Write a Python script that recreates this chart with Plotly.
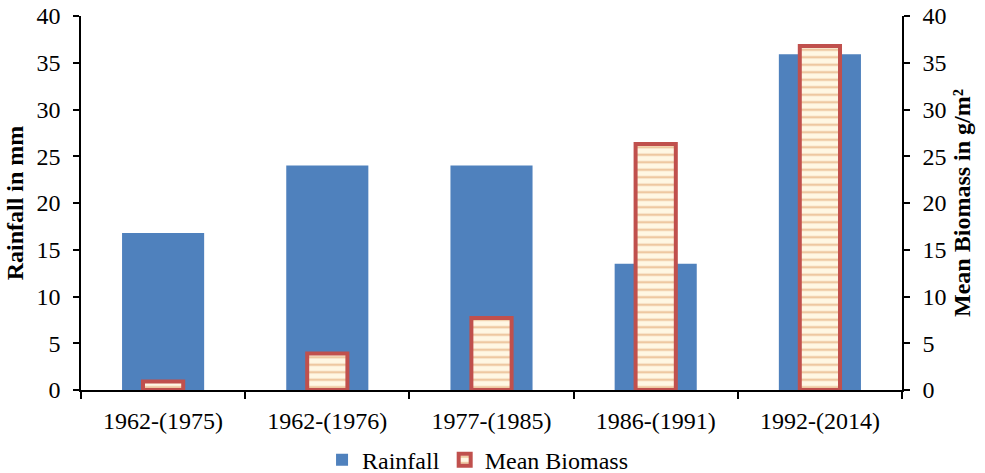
import plotly.graph_objects as go

periods = ["1962-(1975)", "1962-(1976)", "1977-(1985)", "1986-(1991)", "1992-(2014)"]
rainfall_mm = [16.8, 24.0, 24.0, 13.5, 35.9]
mean_biomass = [0.9, 3.9, 7.7, 26.3, 36.8]
y_ticks = [0, 5, 10, 15, 20, 25, 30, 35, 40]

FONT = "Liberation Serif, Times New Roman, serif"

fig = go.Figure()

fig.add_trace(go.Bar(
    x=periods, y=rainfall_mm, name="Rainfall",
    width=0.5,
    marker=dict(color="#4F81BD", line=dict(width=0)),
    yaxis="y",
))

fig.add_trace(go.Bar(
    x=periods, y=mean_biomass, name="Mean Biomass",
    width=0.245,
    marker=dict(
        color="#FFF6E3",
        line=dict(color="#C0504D", width=4),
        pattern=dict(shape="-", fgcolor="#DE9A5E", bgcolor="#FFF7E4",
                     size=7.5, solidity=0.32),
    ),
    yaxis="y2",
))

axis_common = dict(
    range=[0, 40], tickvals=y_ticks, showgrid=False, zeroline=False,
    showline=True, linecolor="black", linewidth=1.5,
    ticks="outside", ticklen=6, tickcolor="black", tickwidth=1.5,
    tickfont=dict(family=FONT, size=24, color="black"),
    ticklabelstandoff=8, automargin=False,
)

fig.update_layout(
    width=985, height=473,
    margin=dict(l=81, r=83, t=16, b=83, autoexpand=False),
    paper_bgcolor="white", plot_bgcolor="white",
    barmode="overlay",
    font=dict(family=FONT, color="black"),
    xaxis=dict(
        type="category", showgrid=False, showline=True, linecolor="black",
        linewidth=1.5, ticks="outside", tickson="boundaries", ticklen=7,
        tickcolor="black", tickwidth=1.5,
        tickfont=dict(family=FONT, size=24, color="black"),
        ticklabelstandoff=8, automargin=False,
    ),
    yaxis=dict(
        **axis_common,
        title=dict(text="<b>Rainfall in mm</b>", font=dict(family=FONT, size=24), standoff=6),
    ),
    yaxis2=dict(
        **axis_common, overlaying="y", side="right",
        title=dict(text="<b>Mean Biomass in g/m²</b>", font=dict(family=FONT, size=24), standoff=8),
    ),
    legend=dict(
        orientation="h", x=0.483, xanchor="center",
        yref="container", y=0.027, yanchor="middle",
        font=dict(family=FONT, size=24, color="black"),
        itemwidth=30, traceorder="normal",
    ),
)

fig.write_html("out.html")
